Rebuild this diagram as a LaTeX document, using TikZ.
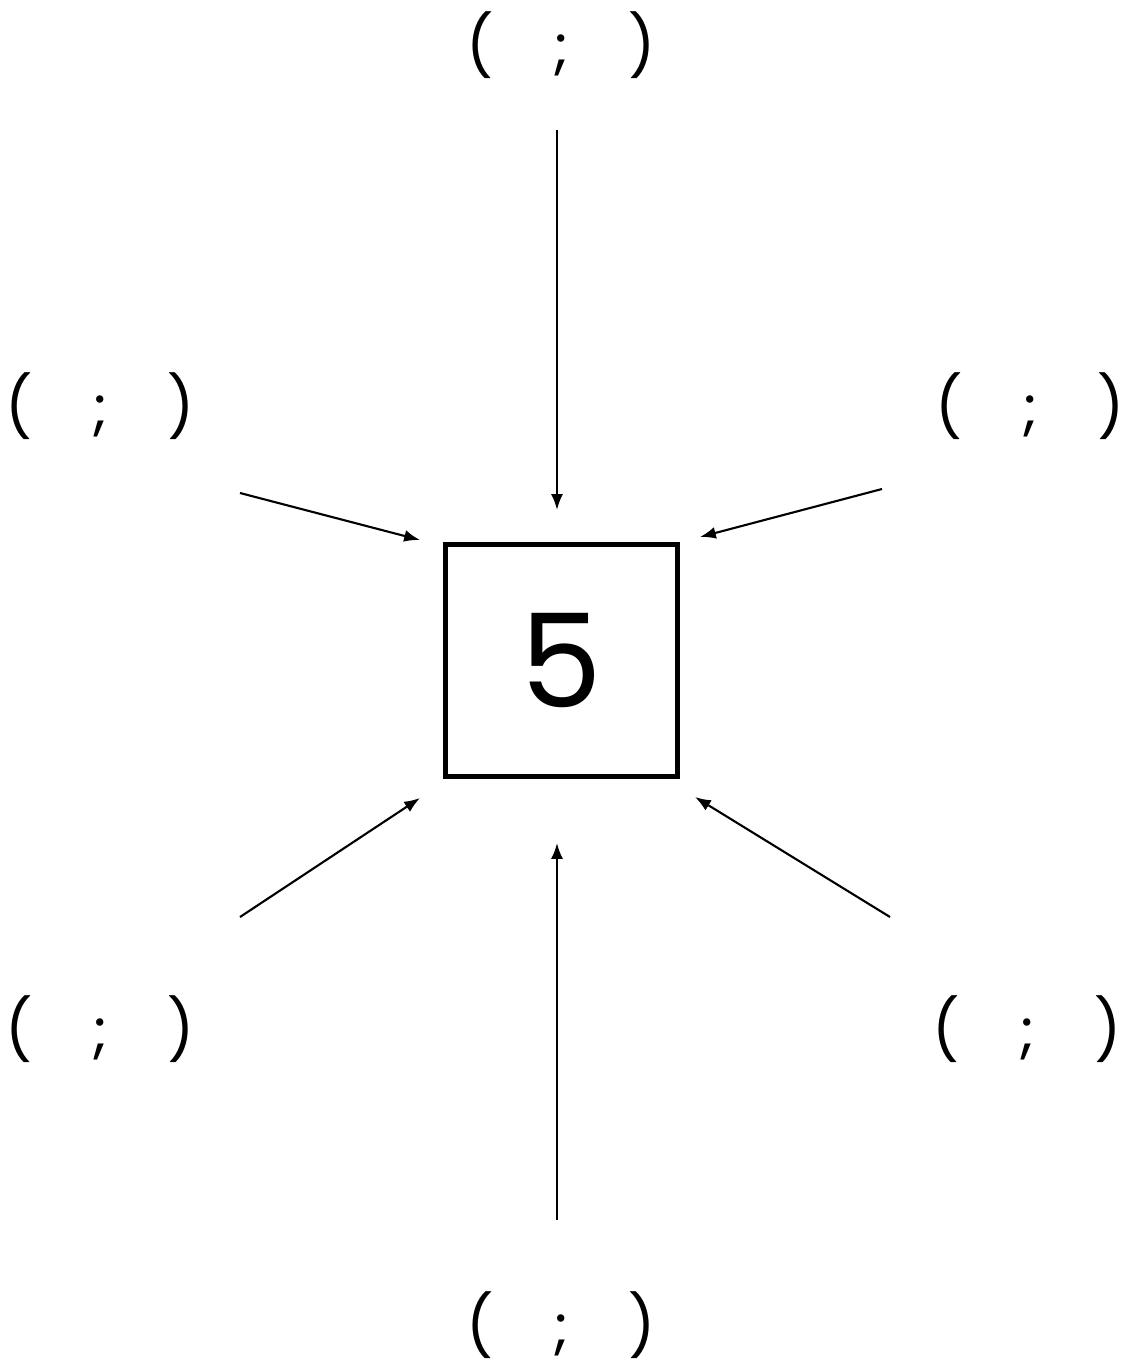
\documentclass[tikz,border=0pt]{standalone}
\usepackage{fontspec}
\setmainfont{Poppins}
\usetikzlibrary{arrows.meta}
\tikzset{
	pair/.style={font=\fontsize{17}{20}\selectfont, inner sep=0pt},
	feed/.style={-{Latex[length=4.5pt,width=3.4pt]}, line width=0.6pt},
	centre/.style={draw, line width=1.6pt, minimum size=2.32cm, inner sep=0pt, font=\fontsize{37}{40}\selectfont}
}
\newcommand{\gap}{(\hskip 17pt;\hskip 17pt)}
\begin{document}
\begin{tikzpicture}[x=0.01cm, y=-0.01cm]
	\useasboundingbox (0,0) rectangle (1126,1364);
	\node[centre] (five) at (561.5,660.5) {5};
	\node[pair] (top) at (561,45) {\gap};
	\node[pair] (ul) at (100,406) {\gap};
	\node[pair] (ur) at (1030,406) {\gap};
	\node[pair] (ll) at (100,1029) {\gap};
	\node[pair] (lr) at (1027,1029) {\gap};
	\node[pair] (bot) at (561,1325) {\gap};
	% free ends of the arrows
	\coordinate (top-s) at (557,130);
	\coordinate (top-e) at (557,510);
	\coordinate (ul-s) at (240,493);
	\coordinate (ul-e) at (420,540);
	\coordinate (ur-s) at (882,489);
	\coordinate (ur-e) at (700,537);
	\coordinate (ll-s) at (240,917);
	\coordinate (ll-e) at (420,798);
	\coordinate (lr-s) at (890,917);
	\coordinate (lr-e) at (695,797);
	\coordinate (bot-s) at (557,1220);
	\coordinate (bot-e) at (557,843);
	\draw[feed] (top-s) -- (top-e);
	\draw[feed] (ul-s) -- (ul-e);
	\draw[feed] (ur-s) -- (ur-e);
	\draw[feed] (ll-s) -- (ll-e);
	\draw[feed] (lr-s) -- (lr-e);
	\draw[feed] (bot-s) -- (bot-e);
\end{tikzpicture}
\end{document}
